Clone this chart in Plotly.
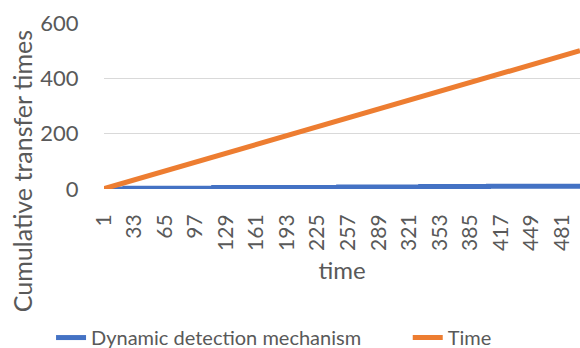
import plotly.graph_objects as go

# Time steps at which the cumulative count changes (step-wise)
dyn_times = [1, 23, 116, 247, 333, 404, 500]
dyn_counts = [0, 3, 5, 7, 9, 10, 11]

# Baseline: one transfer per time step
base_times = [1, 500]
base_counts = [1, 500]

tick_vals = list(range(1, 500, 32))
y_ticks = [0, 200, 400, 600]

FONT = "Lato"
GREY = "#595959"
CLEAR = "rgba(0,0,0,0)"

fig = go.Figure()
fig.add_trace(go.Scatter(
    x=dyn_times, y=dyn_counts, mode="lines", line_shape="hv",
    name="Dynamic detection mechanism", legend="legend",
    line=dict(color="#4472C4", width=5),
))
fig.add_trace(go.Scatter(
    x=base_times, y=base_counts, mode="lines",
    name="Time", legend="legend2",
    line=dict(color="#ED7D31", width=5),
))

legend_style = dict(
    orientation="h", xref="container", yref="container",
    y=0.03, xanchor="left", yanchor="middle",
    font=dict(size=20, color=GREY), bgcolor=CLEAR,
)

fig.update_layout(
    width=580, height=348,
    margin=dict(l=104, r=0, t=23, b=159, autoexpand=False),
    paper_bgcolor="white", plot_bgcolor="white",
    font=dict(family=FONT, color=GREY, size=21),
    showlegend=True,
    legend=dict(x=0.088, **legend_style),
    legend2=dict(x=0.703, **legend_style),
    xaxis=dict(
        range=[1, 500], tickmode="array", tickvals=tick_vals,
        ticktext=[str(v) for v in tick_vals], tickangle=-90,
        showgrid=False, zeroline=False, showline=False, automargin=False,
        ticks="outside", ticklen=16, tickcolor=CLEAR,
        tickfont=dict(size=21, color=GREY),
        title=dict(text="time", font=dict(size=24, color=GREY), standoff=12),
    ),
    yaxis=dict(
        range=[0, 600], tickvals=y_ticks, automargin=False,
        showgrid=True, gridcolor="#D9D9D9", gridwidth=1.3,
        zeroline=False, showline=False,
        ticks="outside", ticklen=20, tickcolor=CLEAR,
        tickfont=dict(size=22, color=GREY),
    ),
    annotations=[dict(
        text="Cumulative transfer times", textangle=-90,
        xref="paper", yref="paper", x=-0.172, y=0.108,
        xanchor="center", yanchor="middle", showarrow=False,
        font=dict(size=25, color=GREY, family=FONT),
    )],
)

fig.write_html("out.html")
